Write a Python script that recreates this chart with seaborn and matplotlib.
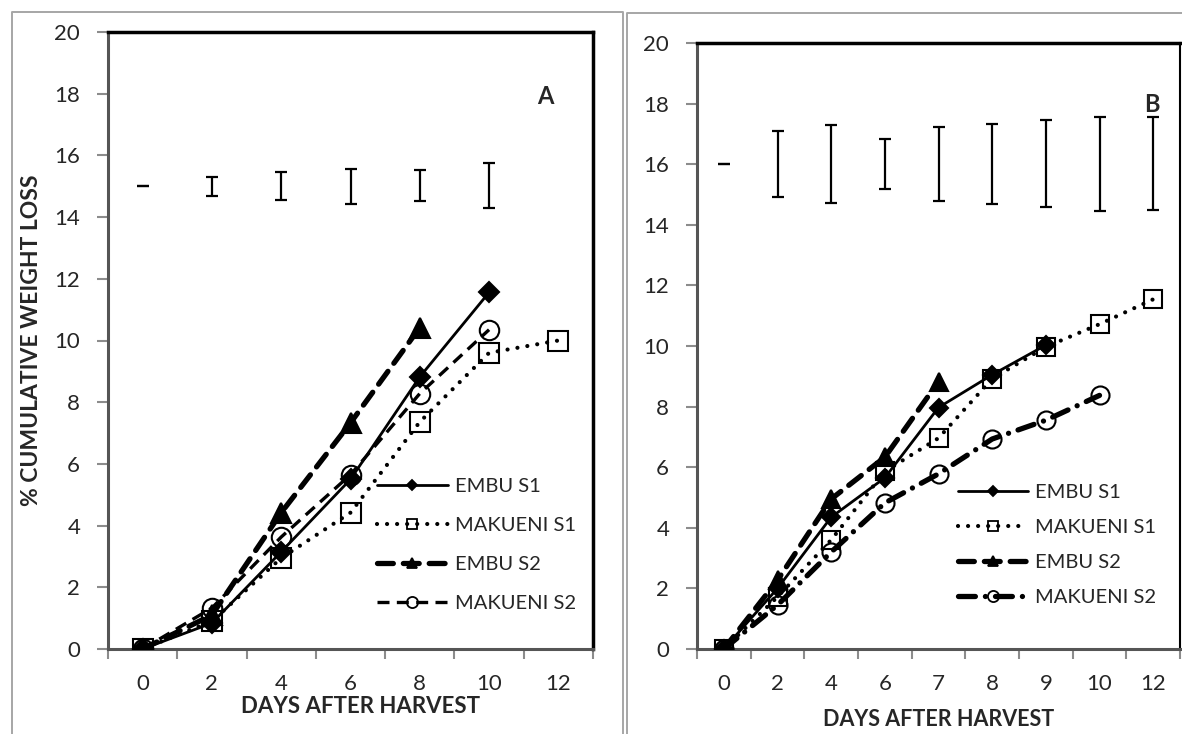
import numpy as np
import matplotlib
matplotlib.use("Agg")
import matplotlib.pyplot as plt
from matplotlib.lines import Line2D
import seaborn as sns

# ---------------- data ----------------
days_a = ["0", "2", "4", "6", "8", "10", "12"]
embu_s1_a = [0.0, 0.84, 3.15, 5.5, 8.82, 11.56]
makueni_s1_a = [0.0, 0.9, 2.95, 4.42, 7.36, 9.6, 10.0]
embu_s2_a = [0.0, 1.1, 4.42, 7.33, 10.42]
makueni_s2_a = [0.0, 1.33, 3.63, 5.65, 8.28, 10.35]
err_low_a = [15.0, 14.70, 14.56, 14.43, 14.51, 14.29]
err_high_a = [15.0, 15.30, 15.46, 15.57, 15.54, 15.74]

days_b = ["0", "2", "4", "6", "7", "8", "9", "10", "12"]
embu_s1_b = [0.0, 2.0, 4.35, 5.65, 7.97, 9.05, 10.03]
makueni_s1_b = [0.0, 1.72, 3.6, 5.86, 6.96, 8.92, 9.97, 10.72, 11.54]
embu_s2_b = [0.0, 2.27, 4.95, 6.33, 8.82]
makueni_s2_b = [0.0, 1.45, 3.2, 4.82, 5.78, 6.93, 7.55, 8.37]
err_low_b = [16.0, 14.93, 14.72, 15.18, 14.79, 14.70, 14.58, 14.46, 14.49]
err_high_b = [16.0, 17.08, 17.28, 16.84, 17.24, 17.34, 17.45, 17.57, 17.55]

series_names = ["EMBU S1", "MAKUENI S1", "EMBU S2", "MAKUENI S2"]

# ---------------- style ----------------
sns.set_style("white")
plt.rcParams["font.family"] = ["Lato", "DejaVu Sans"]

W, H = 1182, 734
fig = plt.figure(figsize=(W / 100, H / 100), dpi=100)


def px_rect(x0, y0, x1, y1):
    return [x0 / W, 1 - y1 / H, (x1 - x0) / W, (y1 - y0) / H]


ax_a = fig.add_axes(px_rect(108, 32, 593, 649))
ax_b = fig.add_axes(px_rect(697, 43, 1180, 649))

black = "black"


def styles(panel):
    thick = 3.8
    st = {
        "EMBU S1": dict(marker="D", ms=10.5 if panel == "a" else 9.5, lw=2.0,
                        ls="-", mfc=black),
        "MAKUENI S1": dict(marker="s", ms=14 if panel == "a" else 13, lw=3.0,
                           ls=(0, (0.01, 2.4)), mfc="none", cap="round"),
        "EMBU S2": dict(marker="^", ms=14 if panel == "a" else 12.5, lw=thick,
                        ls=(0, (3.0, 1.9)), mfc=black, cap="round"),
        "MAKUENI S2": dict(marker="o", ms=14 if panel == "a" else 13,
                           lw=2.4 if panel == "a" else thick,
                           ls=(0, (3.6, 2.2)) if panel == "a" else (0, (3.2, 1.9, 0.01, 1.9)),
                           mfc="none", cap="butt" if panel == "a" else "round"),
    }
    return st


def draw_panel(ax, cats, data, low, high, panel, letter):
    pos = np.arange(len(cats))
    st = styles(panel)
    for name, vals in zip(series_names, data):
        s = st[name]
        sns.lineplot(x=pos[:len(vals)], y=vals, ax=ax, color=black,
                     linewidth=s["lw"], linestyle=s["ls"], marker=s["marker"],
                     markersize=s["ms"], markerfacecolor=s["mfc"],
                     markeredgecolor=black, markeredgewidth=1.5,
                     dash_capstyle=s.get("cap", "butt"), errorbar=None,
                     sort=False, zorder=3)
    low = np.asarray(low)
    high = np.asarray(high)
    mid = (low + high) / 2
    ax.errorbar(pos[:len(mid)], mid, yerr=[mid - low, high - mid], fmt="none",
                ecolor=black, elinewidth=1.6, capsize=4.3, capthick=1.6, zorder=2)

    ax.set_xlim(-0.5, len(cats) - 0.5)
    ax.set_ylim(0, 20)
    ax.set_yticks(np.arange(0, 21, 2))
    ax.set_xticks(pos)
    ax.set_xticklabels(cats)
    ax.set_xticks(np.arange(-0.5, len(cats), 1.0), minor=True)
    ax.tick_params(axis="x", which="major", length=0, pad=18, labelsize=16)
    ax.tick_params(axis="x", which="minor", length=7, width=1.5,
                   color="#8c8c8c", direction="out", bottom=True)
    ax.tick_params(axis="y", which="major", length=8, width=1.5,
                   color="#8c8c8c", direction="out", left=True, pad=12,
                   labelsize=16)
    for side in ["top", "right"]:
        ax.spines[side].set_color(black)
        ax.spines[side].set_linewidth(2.5)
    if panel == "b":
        ax.spines["right"].set_linewidth(1.5)
    for side in ["left", "bottom"]:
        ax.spines[side].set_color("#555555")
        ax.spines[side].set_linewidth(2.2)
    ax.grid(False)
    ax.text(0.901 if panel == "a" else 0.942, 0.895 if panel == "a" else 0.899,
            letter, transform=ax.transAxes, fontsize=17, fontweight="bold",
            ha="center", va="center")

    # legend with small markers
    handles = []
    small = {"EMBU S1": 5.5, "MAKUENI S1": 7.5, "EMBU S2": 7.5, "MAKUENI S2": 8}
    for name in series_names:
        s = st[name]
        handles.append(Line2D([], [], color=black, lw=s["lw"], ls=s["ls"],
                              marker=s["marker"], ms=small[name],
                              mfc=s["mfc"], mec=black, mew=1.3,
                              dash_capstyle=s.get("cap", "butt")))
    if panel == "a":
        anchor = (0.555, 0.1686)
        spacing = 1.1
    else:
        anchor = (0.540, 0.1716)
        spacing = 0.88
    ax.legend(handles, series_names, loc="center left", bbox_to_anchor=anchor,
              frameon=False, fontsize=14.5, handlelength=3.5, handletextpad=0.35,
              labelspacing=spacing, borderpad=0, borderaxespad=0)


draw_panel(ax_a, days_a, [embu_s1_a, makueni_s1_a, embu_s2_a, makueni_s2_a],
           err_low_a, err_high_a, "a", "A")
draw_panel(ax_b, days_b, [embu_s1_b, makueni_s1_b, embu_s2_b, makueni_s2_b],
           err_low_b, err_high_b, "b", "B")

ax_a.set_ylabel("% CUMULATIVE WEIGHT LOSS", fontsize=16.5, fontweight="bold")
ax_a.yaxis.set_label_coords(-0.157, 0.5)
ax_a.yaxis.label.set_va("center")
ax_a.set_xlabel("DAYS AFTER HARVEST", fontsize=16, fontweight="bold")
ax_a.xaxis.set_label_coords(0.52, -0.094)
ax_a.xaxis.label.set_va("center")
ax_b.set_xlabel("DAYS AFTER HARVEST", fontsize=15.5, fontweight="bold")
ax_b.xaxis.set_label_coords(0.5, -0.117)
ax_b.xaxis.label.set_va("center")
ax_b.set_ylabel("")

# outer table-like frames
gray = "#a6a6a6"
fig.add_artist(Line2D([12 / W, 12 / W, 623 / W, 623 / W],
                      [0, 1 - 12 / H, 1 - 12 / H, 0], color=gray, lw=1.4,
                      transform=fig.transFigure))
fig.add_artist(Line2D([627 / W, 627 / W, 1.0],
                      [0, 1 - 13 / H, 1 - 13 / H], color=gray, lw=1.4,
                      transform=fig.transFigure))

fig.savefig("out.png", dpi=100)
